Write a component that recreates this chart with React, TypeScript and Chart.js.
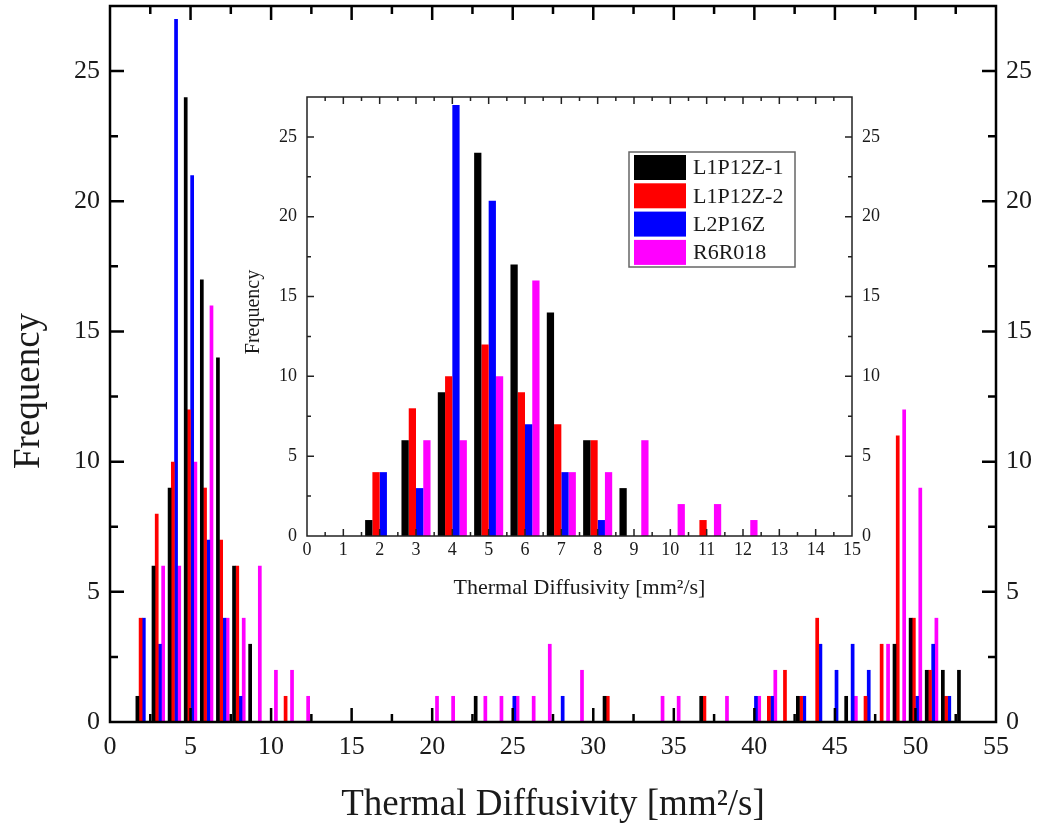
import React, { useEffect, useRef } from 'react';
import { Chart, registerables } from 'chart.js';

Chart.register(...registerables);

// ---------- DATA ----------
const bins = [
  2, 3, 4, 5, 6, 7, 8, 9, 10, 11,
  12, 13, 14, 15, 16, 17, 18, 19, 20, 21,
  22, 23, 24, 25, 26, 27, 28, 29, 30, 31,
  32, 33, 34, 35, 36, 37, 38, 39, 40, 41,
  42, 43, 44, 45, 46, 47, 48, 49, 50, 51,
  52, 53,
];

const seriesNames = ['L1P12Z-1', 'L1P12Z-2', 'L2P16Z', 'R6R018'];
const seriesColors = ['#000000', '#ff0000', '#0000ff', '#ff00ff'];

const l1p12z1 = [
  1, 6, 9, 24, 17, 14, 6, 3, 0, 0,
  0, 0, 0, 0, 0, 0, 0, 0, 0, 0,
  0, 1, 0, 0, 0, 0, 0, 0, 0, 1,
  0, 0, 0, 0, 0, 1, 0, 0, 0, 0,
  0, 1, 0, 0, 1, 0, 0, 3, 4, 2,
  2, 2,
];
const l1p12z2 = [
  4, 8, 10, 12, 9, 7, 6, 0, 0, 1,
  0, 0, 0, 0, 0, 0, 0, 0, 0, 0,
  0, 0, 0, 0, 0, 0, 0, 0, 0, 1,
  0, 0, 0, 0, 0, 1, 0, 0, 0, 1,
  2, 1, 4, 0, 0, 1, 3, 11, 4, 2,
  1, 0,
];
const l2p16z = [
  4, 3, 27, 21, 7, 4, 1, 0, 0, 0,
  0, 0, 0, 0, 0, 0, 0, 0, 0, 0,
  0, 0, 0, 1, 0, 0, 1, 0, 0, 0,
  0, 0, 0, 0, 0, 0, 0, 0, 1, 1,
  0, 1, 3, 2, 3, 2, 0, 0, 1, 3,
  1, 0,
];
const r6r018 = [
  0, 6, 6, 10, 16, 4, 4, 6, 2, 2,
  1, 0, 0, 0, 0, 0, 0, 0, 1, 1,
  0, 1, 1, 1, 1, 3, 0, 2, 0, 0,
  0, 0, 1, 1, 0, 0, 1, 0, 1, 2,
  0, 0, 0, 0, 1, 0, 3, 12, 9, 4,
  0, 0,
];
const seriesValues = [l1p12z1, l1p12z2, l2p16z, r6r018];

const xTitle = 'Thermal Diffusivity [mm²/s]';
const yTitle = 'Frequency';

// ---------- STYLE ----------
const FONT = "'Liberation Serif', 'Times New Roman', Times, serif";
const TEXT = '#1a1a1a';

const frameTicks = {
  id: 'frameTicks',
  afterDatasetsDraw(chart: any, _args: any, o: any) {
    const { ctx, chartArea } = chart;
    const { left, right, top, bottom } = chartArea;
    const xs = chart.scales.x;
    const ys = chart.scales.y;
    ctx.save();
    ctx.strokeStyle = o.color;
    ctx.lineWidth = o.tickWidth;
    ctx.lineCap = 'butt';
    ctx.beginPath();
    const nx = Math.round((xs.max - xs.min) / o.xMinor);
    for (let i = 1; i < nx; i++) {
      const v = xs.min + i * o.xMinor;
      const major = Math.abs(v / o.xMajor - Math.round(v / o.xMajor)) < 1e-6;
      const len = major ? o.majorLen : o.minorLen;
      const p = xs.getPixelForValue(v);
      ctx.moveTo(p, bottom);
      ctx.lineTo(p, bottom - len);
      ctx.moveTo(p, top);
      ctx.lineTo(p, top + len);
    }
    const ny = Math.round((ys.max - ys.min) / o.yMinor);
    for (let i = 1; i < ny; i++) {
      const v = ys.min + i * o.yMinor;
      const major = Math.abs(v / o.yMajor - Math.round(v / o.yMajor)) < 1e-6;
      const len = major ? o.majorLen : o.minorLen;
      const p = ys.getPixelForValue(v);
      ctx.moveTo(left, p);
      ctx.lineTo(left + len, p);
      ctx.moveTo(right, p);
      ctx.lineTo(right - len, p);
    }
    ctx.stroke();
    ctx.lineWidth = o.frameWidth;
    ctx.strokeRect(left, top, right - left, bottom - top);
    ctx.restore();
  },
};

// Rotated y-axis title placed at a given centre (canvas px)
const sideTitle = {
  id: 'sideTitle',
  afterDraw(chart: any, _args: any, o: any) {
    if (!o || !o.text) return;
    const { ctx } = chart;
    ctx.save();
    ctx.translate(o.cx, o.cy);
    ctx.rotate(-Math.PI / 2);
    ctx.font = `${o.size}px ${FONT}`;
    ctx.fillStyle = TEXT;
    ctx.textAlign = 'center';
    ctx.textBaseline = 'middle';
    ctx.fillText(o.text, 0, 0);
    ctx.restore();
  },
};

const boxLegend = {
  id: 'boxLegend',
  afterDraw(chart: any, _args: any, o: any) {
    if (!o || !o.show) return;
    const { ctx } = chart;
    ctx.save();
    ctx.fillStyle = '#ffffff';
    ctx.fillRect(o.x, o.y, o.w, o.h);
    ctx.strokeStyle = o.borderColor;
    ctx.lineWidth = o.borderWidth;
    ctx.strokeRect(o.x, o.y, o.w, o.h);
    ctx.font = `${o.fontSize}px ${FONT}`;
    ctx.textBaseline = 'middle';
    ctx.textAlign = 'left';
    chart.data.datasets.forEach((ds: any, i: number) => {
      const y = o.y + o.padTop + i * o.rowPitch;
      ctx.fillStyle = ds.backgroundColor;
      ctx.fillRect(o.x + o.swX, y, o.swW, o.swH);
      ctx.fillStyle = TEXT;
      ctx.fillText(ds.label, o.x + o.textX, y + o.swH / 2 + 1);
    });
    ctx.restore();
  },
};

function makeDatasets(barPercentage: number) {
  return seriesNames.map((name, i) => ({
    label: name,
    data: seriesValues[i],
    backgroundColor: seriesColors[i],
    borderWidth: 0,
    categoryPercentage: 0.8,
    barPercentage,
  }));
}

function buildConfig(p: any) {
  const tickFont = { family: FONT, size: p.tickSize };
  const yCommon = {
    type: 'linear',
    min: 0,
    max: 27.5,
    grid: { display: false, drawTicks: false },
    border: { display: false },
    ticks: { stepSize: 5, includeBounds: false, font: tickFont, color: TEXT, padding: p.yPad },
  };
  return {
    type: 'bar',
    data: { labels: bins, datasets: makeDatasets(p.barPct) },
    plugins: [frameTicks, boxLegend, sideTitle],
    options: {
      responsive: false,
      animation: false,
      events: [],
      layout: { padding: { top: p.top, left: 0, right: 0, bottom: 0 } },
      plugins: {
        legend: { display: false },
        tooltip: { enabled: false },
        frameTicks: p.frame,
        boxLegend: p.legend,
        sideTitle: { text: yTitle, size: p.yTitleSize, cx: p.yTitleX, cy: p.yTitleY },
      },
      scales: {
        x: {
          type: 'linear',
          offset: false,
          min: 0,
          max: p.xMax,
          grid: { display: false, drawTicks: false, offset: false },
          border: { display: false },
          ticks: {
            stepSize: p.xStep,
            includeBounds: false,
            maxRotation: 0,
            autoSkip: false,
            font: tickFont,
            color: TEXT,
            padding: p.xPad,
          },
          title: {
            display: true,
            text: xTitle,
            font: { family: FONT, size: p.xTitleSize },
            color: TEXT,
            padding: { top: 0, bottom: p.xTitlePad },
          },
          afterFit: (s: any) => {
            s.height = p.xH;
            s.paddingLeft = 0;
            s.paddingRight = 0;
          },
        },
        y: {
          ...yCommon,
          position: 'left',
          afterFit: (s: any) => {
            s.width = p.yW;
            s.paddingTop = 0;
            s.paddingBottom = 0;
          },
        },
        y2: {
          ...yCommon,
          position: 'right',
          display: true,
          afterFit: (s: any) => {
            s.width = p.y2W;
            s.paddingTop = 0;
            s.paddingBottom = 0;
          },
        },
      },
    },
  };
}

const mainParams = {
  barPct: 1.15,
  tickSize: 26,
  xMax: 55,
  xStep: 5,
  xPad: 10,
  yPad: 10,
  top: 6,
  xH: 109,
  yW: 110,
  y2W: 53,
  xTitleSize: 37,
  xTitlePad: 4,
  yTitleSize: 37,
  yTitleX: 29,
  yTitleY: 391,
  frame: {
    color: '#000000', tickWidth: 2.5, frameWidth: 2.5,
    majorLen: 14, minorLen: 8, xMajor: 5, xMinor: 2.5, yMajor: 5, yMinor: 2.5,
  },
  legend: { show: false },
};

const insetParams = {
  barPct: 1,
  tickSize: 18,
  xMax: 15,
  xStep: 1,
  xPad: 3,
  yPad: 10,
  top: 17,
  xH: 74,
  yW: 77,
  y2W: 48,
  xTitleSize: 22,
  xTitlePad: 9,
  yTitleSize: 20,
  yTitleX: 24,
  yTitleY: 232,
  frame: {
    color: '#222222', tickWidth: 1.5, frameWidth: 1.5,
    majorLen: 7, minorLen: 4, xMajor: 1, xMinor: 0.5, yMajor: 5, yMinor: 2.5,
  },
  legend: {
    show: true,
    x: 399, y: 72, w: 166, h: 115,
    borderColor: '#666666', borderWidth: 1.5,
    swX: 5, swW: 52, swH: 25, padTop: 3, rowPitch: 28.3,
    textX: 64, fontSize: 22,
  },
};

export default function App() {
  const mainRef = useRef<HTMLCanvasElement>(null);
  const insetRef = useRef<HTMLCanvasElement>(null);

  useEffect(() => {
    document.body.style.margin = '0';
    const c1 = new Chart(mainRef.current as HTMLCanvasElement, buildConfig(mainParams) as any);
    const c2 = new Chart(insetRef.current as HTMLCanvasElement, buildConfig(insetParams) as any);
    return () => {
      c1.destroy();
      c2.destroy();
    };
  }, []);

  return (
    <div style={{ position: 'fixed', left: 0, top: 0, width: 1049, height: 831, background: '#ffffff' }}>
      <canvas ref={mainRef} width={1049} height={831} style={{ position: 'absolute', left: 0, top: 0 }} />
      <canvas ref={insetRef} width={670} height={530} style={{ position: 'absolute', left: 230, top: 80 }} />
    </div>
  );
}
